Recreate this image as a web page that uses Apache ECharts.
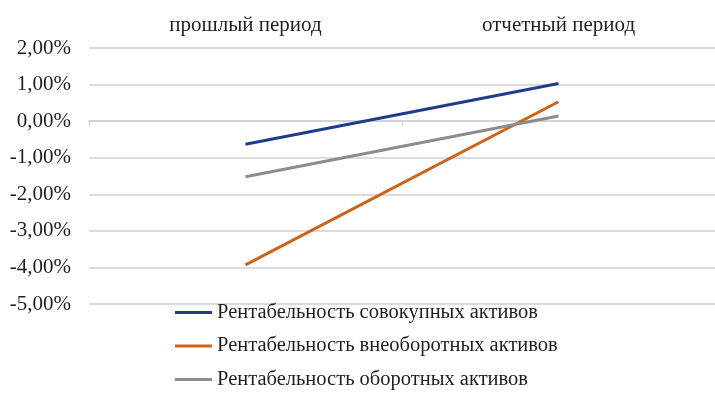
<!DOCTYPE html>
<html>
<head>
<meta charset="utf-8">
<script src="https://cdn.jsdelivr.net/npm/echarts@6/dist/echarts.min.js"></script>
<style>
  html, body { margin: 0; padding: 0; background: #fff; }
  #chart { width: 715px; height: 398px; }
</style>
</head>
<body>
<div id="chart"></div>
<script>
// Periods shown along the top
const periods = ['прошлый период', 'отчетный период'];

// Profitability ratios, percent
const totalAssets = [-0.63, 1.03];
const nonCurrentAssets = [-3.93, 0.53];
const currentAssets = [-1.52, 0.14];

const seriesNames = [
  'Рентабельность совокупных активов',
  'Рентабельность внеоборотных активов',
  'Рентабельность оборотных активов'
];

const yTicks = { min: -5, max: 2, step: 1 };

const serif = '"Liberation Serif", "Times New Roman", serif';
const textColor = '#1e1e1e';
const colors = ['#1f3b8c', '#cc631b', '#8c8c8c'];
const gridColor = '#d0d0d0';

const chart = echarts.init(document.getElementById('chart'), null, { renderer: 'canvas' });

const plotBox = { left: 89, right: 0, top: 48, bottom: 94, containLabel: false };

function lineSeries(name, data, color) {
  return {
    name: name,
    type: 'line',
    data: data,
    xAxisIndex: 0,
    yAxisIndex: 0,
    symbol: 'none',
    smooth: false,
    lineStyle: { color: color, width: 3 },
    itemStyle: { color: color },
    z: 3
  };
}

chart.setOption({
  animation: false,
  color: colors,
  // second grid overlays the first and carries the category axis line at zero
  grid: [Object.assign({}, plotBox), Object.assign({}, plotBox)],
  xAxis: [
    {
      gridIndex: 0,
      type: 'category',
      data: periods,
      position: 'top',
      boundaryGap: true,
      axisLine: { show: false },
      axisTick: { show: false },
      axisLabel: {
        margin: 12,
        fontFamily: serif,
        fontSize: 21,
        color: textColor
      }
    },
    {
      gridIndex: 1,
      type: 'category',
      data: periods,
      position: 'bottom',
      boundaryGap: true,
      axisLine: { show: true, onZero: true, lineStyle: { color: gridColor, width: 1.5 } },
      axisTick: { show: true, length: 5, lineStyle: { color: gridColor } },
      axisLabel: { show: false }
    }
  ],
  yAxis: [
    {
      gridIndex: 0,
      type: 'value',
      min: yTicks.min,
      max: yTicks.max,
      interval: yTicks.step,
      axisLine: { show: false },
      axisTick: { show: false },
      splitLine: { lineStyle: { color: gridColor, width: 1.5 } },
      axisLabel: {
        margin: 18,
        fontFamily: serif,
        fontSize: 21,
        color: textColor,
        formatter: v => v.toFixed(2).replace('.', ',') + '%'
      }
    },
    {
      gridIndex: 1,
      type: 'value',
      min: yTicks.min,
      max: yTicks.max,
      interval: yTicks.step,
      axisLine: { show: false },
      axisTick: { show: false },
      splitLine: { show: false },
      axisLabel: { show: false }
    }
  ],
  legend: {
    orient: 'vertical',
    left: 175,
    top: 302,
    padding: 0,
    itemWidth: 37,
    itemHeight: 3,
    itemGap: 12.5,
    icon: 'rect',
    data: seriesNames,
    textStyle: {
      fontFamily: serif,
      fontSize: 20.5,
      lineHeight: 21,
      color: textColor
    }
  },
  series: [
    lineSeries(seriesNames[0], totalAssets, colors[0]),
    lineSeries(seriesNames[1], nonCurrentAssets, colors[1]),
    lineSeries(seriesNames[2], currentAssets, colors[2])
  ]
});
</script>
</body>
</html>
